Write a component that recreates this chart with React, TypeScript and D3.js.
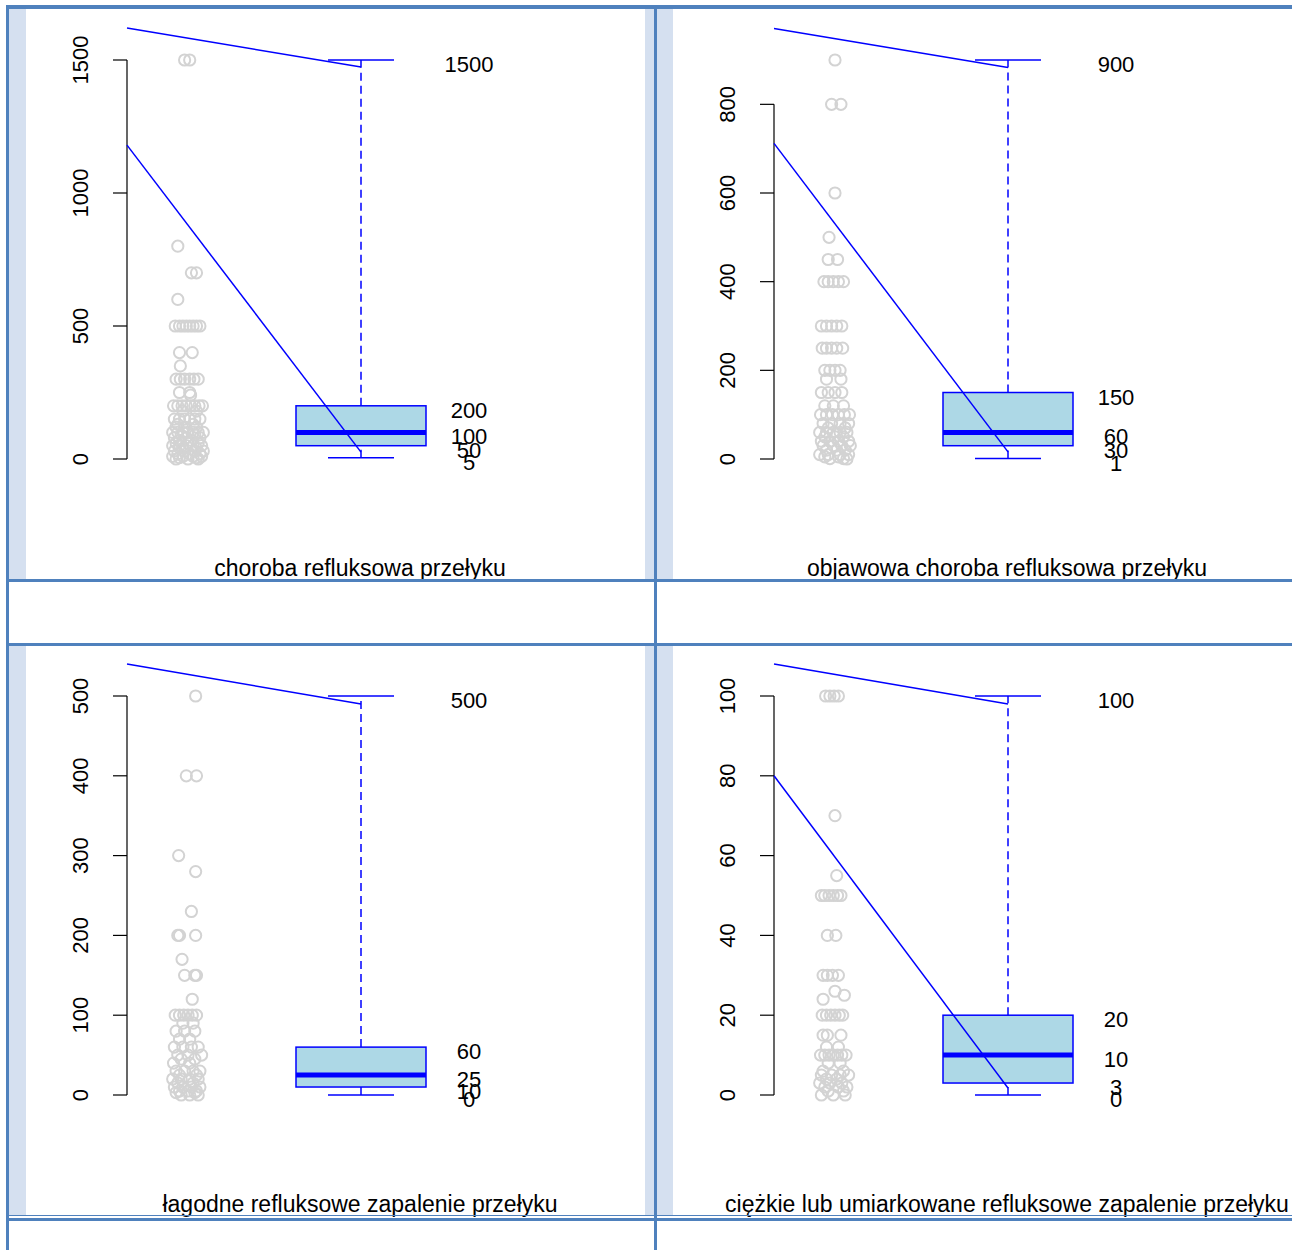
import React from 'react';
import * as d3 from 'd3';

const titles = [
  'choroba refluksowa przełyku',
  'objawowa choroba refluksowa przełyku',
  'łagodne refluksowe zapalenie przełyku',
  'ciężkie lub umiarkowane refluksowe zapalenie przełyku',
];

const yTicks = [
  [0, 500, 1000, 1500],
  [0, 200, 400, 600, 800],
  [0, 100, 200, 300, 400, 500],
  [0, 20, 40, 60, 80, 100],
];

// [min, q1, median, q3, max]
const boxStats = [
  [5, 50, 100, 200, 1500],
  [1, 30, 60, 150, 900],
  [0, 10, 25, 60, 500],
  [0, 3, 10, 20, 100],
];

// guide lines: [value at axis, value at box centre]
const guideLines = [
  [[1620, 1474], [1180, 26]],
  [[971, 883], [712, 16]],
  [[540, 490]],
  [[108, 98], [80, 1.75]],
];

// strip points: [value, jitter positions in -1..1]
const points1: [number, number[]][] = [
  [1500, [-0.2, 0.1]], [800, [-0.6]], [700, [0.2, 0.5]], [600, [-0.6]],
  [500, [-0.75, -0.5, -0.3, -0.1, 0.1, 0.3, 0.5, 0.7]], [400, [-0.5, 0.25]], [350, [-0.45]],
  [300, [-0.7, -0.45, -0.2, 0.1, 0.35, 0.6]], [250, [-0.5, 0.1]], [240, [0.15]],
  [200, [-0.85, -0.6, -0.35, -0.1, 0.15, 0.4, 0.65, 0.85]], [180, [-0.3, 0.5]],
  [150, [-0.8, -0.5, -0.2, 0.1, 0.4, 0.7]], [130, [-0.6, 0.3]], [120, [-0.7, -0.2, 0.5]],
  [100, [-0.9, -0.6, -0.3, 0, 0.3, 0.6, 0.9]], [90, [-0.4, 0.4]], [80, [-0.8, -0.1, 0.7]],
  [70, [-0.5, 0.2]], [60, [-0.7, 0, 0.6]], [50, [-0.9, -0.5, -0.1, 0.3, 0.8]], [40, [-0.3, 0.5]],
  [30, [-0.8, -0.2, 0.4, 0.9]], [20, [-0.6, 0.1, 0.7]], [10, [-0.9, -0.3, 0.3, 0.8]],
  [5, [-0.5, 0.5]], [0, [-0.7, 0, 0.6]],
];
const points2: [number, number[]][] = [
  [900, [0]], [800, [-0.2, 0.35]], [600, [0]], [500, [-0.35]], [450, [-0.4, 0.15]],
  [400, [-0.65, -0.4, -0.1, 0.2, 0.5]], [300, [-0.8, -0.5, -0.2, 0.1, 0.4]],
  [250, [-0.75, -0.5, -0.2, 0.1, 0.45]], [200, [-0.6, -0.3, 0, 0.3]], [180, [-0.5, 0.35]],
  [150, [-0.8, -0.4, 0, 0.4]], [120, [-0.6, -0.1, 0.5]], [100, [-0.85, -0.5, -0.15, 0.2, 0.55, 0.85]],
  [80, [-0.7, -0.2, 0.3, 0.8]], [70, [-0.4, 0.6]], [60, [-0.9, -0.5, -0.1, 0.3, 0.7]],
  [50, [-0.6, 0, 0.5]], [40, [-0.8, -0.3, 0.2, 0.8]], [30, [-0.7, -0.1, 0.4, 0.9]],
  [20, [-0.5, 0.1, 0.6]], [10, [-0.9, -0.4, 0.3, 0.8]], [5, [-0.6, 0.2]], [1, [-0.3, 0.5]], [0, [0.7]],
];
const points3: [number, number[]][] = [
  [500, [0.45]], [400, [-0.1, 0.5]], [300, [-0.55]], [280, [0.45]], [230, [0.2]],
  [200, [-0.6, -0.5, 0.45]], [170, [-0.35]], [150, [-0.2, 0.4, 0.5]], [120, [0.25]],
  [100, [-0.75, -0.5, -0.25, 0, 0.25, 0.5]], [90, [-0.3, 0.3]], [80, [-0.7, -0.2, 0.4]],
  [70, [-0.5, 0.1]], [60, [-0.8, -0.3, 0.2, 0.6]], [50, [-0.6, 0, 0.8]], [45, [-0.4, 0.4]],
  [40, [-0.85, 0.1]], [30, [-0.7, -0.2, 0.3, 0.7]], [25, [-0.5, 0.5]], [20, [-0.9, -0.4, 0.1, 0.6]],
  [15, [-0.6, 0.3]], [10, [-0.8, -0.3, 0.2, 0.7]], [5, [-0.5, 0, 0.5]], [3, [-0.7, 0.4]],
  [0, [-0.4, 0.1, 0.6]],
];
const points4: [number, number[]][] = [
  [100, [-0.55, -0.3, -0.05, 0.2]], [70, [0]], [55, [0.1]],
  [50, [-0.8, -0.6, -0.35, -0.1, 0.15, 0.35]], [40, [-0.45, 0.05]],
  [30, [-0.7, -0.45, -0.15, 0.2]], [26, [0]], [25, [0.55]], [24, [-0.7]],
  [20, [-0.75, -0.5, -0.25, 0, 0.25, 0.45]], [15, [-0.7, -0.45, 0.35]], [12, [-0.5, 0.2]],
  [10, [-0.85, -0.6, -0.35, -0.1, 0.15, 0.4, 0.65]], [8, [-0.4, 0.3]], [6, [-0.7, 0.5]],
  [5, [-0.8, -0.2, 0.3, 0.8]], [4, [-0.5, 0.1]], [3, [-0.9, -0.3, 0.4]], [2, [-0.6, 0.2, 0.7]],
  [1, [-0.4, 0.5]], [0, [-0.8, -0.1, 0.6]],
];
const allPoints = [points1, points2, points3, points4];

const FONT = '"Liberation Sans", Arial, Helvetica, sans-serif';
const TABLE = '#4F81BD';
const STRIP = '#D5E0F0';
const BLUE = '#0000FF';

function Panel({ i }: { i: number }) {
  const ox = (i % 2) * 647;
  const oy = Math.floor(i / 2) * 636;
  const st = boxStats[i];
  const y = d3.scaleLinear().domain([0, st[4]]).range([459 + oy, 60 + oy]);
  const jit = d3.scaleLinear().domain([-1, 1]).range([-17, 17]);
  const axisX = 127 + ox;
  const boxC = 361 + ox;
  const stripC = 188 + ox;
  const labelX = 469 + ox;
  const boxHalf = 65;
  const capHalf = 33;
  const ticks = yTicks[i];
  const pts: { v: number; j: number }[] = [];
  allPoints[i].forEach(([v, js]) => js.forEach((j) => pts.push({ v, j })));
  const [mn, q1, md, q3, mx] = st;
  return (
    <g>
      {pts.map((p, k) => (
        <circle key={k} cx={stripC + jit(p.j)} cy={y(p.v)} r={5.6} fill="none" stroke="#D3D3D3" strokeWidth={2} />
      ))}
      {/* axis */}
      <line x1={axisX} x2={axisX} y1={y(ticks[0])} y2={y(ticks[ticks.length - 1])} stroke="#000" strokeWidth={1.2} />
      {ticks.map((t) => (
        <g key={t}>
          <line x1={axisX - 14} x2={axisX} y1={y(t)} y2={y(t)} stroke="#000" strokeWidth={1.2} />
          <text
            x={axisX - 39}
            y={y(t)}
            transform={`rotate(-90, ${axisX - 39}, ${y(t)})`}
            textAnchor="middle"
            fontFamily={FONT}
            fontSize={22}
            fill="#000"
          >
            {t}
          </text>
        </g>
      ))}
      {/* whiskers */}
      <line x1={boxC} x2={boxC} y1={y(q3)} y2={y(mx)} stroke={BLUE} strokeWidth={1.5} strokeDasharray="8,5" />
      <line x1={boxC} x2={boxC} y1={y(mn)} y2={y(q1)} stroke={BLUE} strokeWidth={1.5} strokeDasharray="8,5" />
      <line x1={boxC - capHalf} x2={boxC + capHalf} y1={y(mx)} y2={y(mx)} stroke={BLUE} strokeWidth={1.5} />
      <line x1={boxC - capHalf} x2={boxC + capHalf} y1={y(mn)} y2={y(mn)} stroke={BLUE} strokeWidth={1.5} />
      <rect x={boxC - boxHalf} y={y(q3)} width={boxHalf * 2} height={y(q1) - y(q3)} fill="#ADD8E6" stroke={BLUE} strokeWidth={1.5} />
      <line x1={boxC - boxHalf} x2={boxC + boxHalf} y1={y(md)} y2={y(md)} stroke={BLUE} strokeWidth={5} />
      {/* guide lines */}
      {guideLines[i].map(([a, b], k) => (
        <line key={k} x1={axisX} y1={y(a)} x2={boxC} y2={y(b)} stroke={BLUE} strokeWidth={1.5} />
      ))}
      {/* stat labels */}
      {st.map((v, k) => (
        <text key={k} x={labelX} y={y(v) + 12} textAnchor="middle" fontFamily={FONT} fontSize={22} fill="#000">
          {v}
        </text>
      ))}
      <text x={boxC - 1} y={576 + oy} textAnchor="middle" fontFamily={FONT} fontSize={23} fill="#000">
        {titles[i]}
      </text>
    </g>
  );
}

export default function App() {
  const W = 1292;
  const H = 1250;
  return (
    <div style={{ position: 'absolute', left: 0, top: 0 }}>
      <svg width={W} height={H} style={{ display: 'block', background: '#fff' }}>
        <rect x={0} y={0} width={W} height={H} fill="#fff" />
        {/* cell side strips */}
        {[0, 637].map((ry) => (
          <g key={ry}>
            <rect x={9} y={9 + ry} width={17} height={570} fill={STRIP} />
            <rect x={645} y={9 + ry} width={9} height={570} fill={STRIP} />
            <rect x={657} y={9 + ry} width={16} height={570} fill={STRIP} />
          </g>
        ))}
        {[0, 1, 2, 3].map((i) => (
          <Panel key={i} i={i} />
        ))}
        {/* table borders */}
        <rect x={6} y={5} width={W - 6} height={4} fill={TABLE} />
        <rect x={6} y={5} width={3} height={H - 5} fill={TABLE} />
        <rect x={654} y={9} width={3} height={H - 9} fill={TABLE} />
        <rect x={6} y={579} width={W - 6} height={3} fill={TABLE} />
        <rect x={6} y={643} width={W - 6} height={3} fill={TABLE} />
        <rect x={6} y={1215} width={W - 6} height={1} fill={TABLE} />
        <rect x={6} y={1218} width={W - 6} height={3} fill={TABLE} />
      </svg>
    </div>
  );
}
